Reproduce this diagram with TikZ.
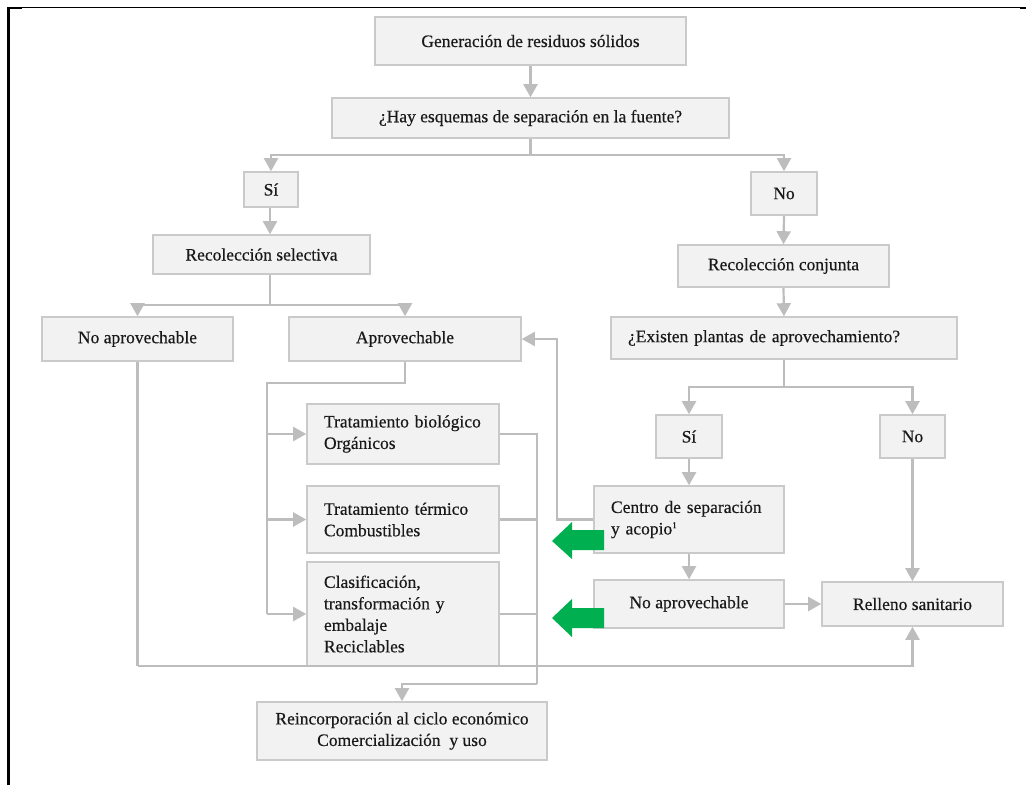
\documentclass[tikz,border=0pt]{standalone}
\usepackage{fontspec}
\setmainfont{Liberation Serif}[FakeBold=0.4,AutoFakeBold=0.4]
\usetikzlibrary{arrows.meta}
\definecolor{boxfill}{HTML}{F2F2F2}
\definecolor{boxline}{HTML}{CACACA}
\definecolor{conn}{HTML}{BDBDBD}
\definecolor{grn}{HTML}{00B050}
\begin{document}
\begin{tikzpicture}[x=1pt,y=-1pt,
  box/.style={draw=boxline, fill=boxfill, line width=1.6pt, inner sep=0pt,
    font=\fontsize{17.5}{21.5}\selectfont, align=center, text=black!90},
  lbox/.style={box, align=left, inner xsep=17pt},
  link/.style={draw=conn, line width=2.2pt},
  arr/.style={link, -{Triangle[width=14pt,length=13pt]}},
  frame/.style={draw=black, line width=1.4pt}
]
\fill[white] (0,0) rectangle (1026,785);
\useasboundingbox (0,0) rectangle (1026,785);

% frame
\draw[frame] (8,7.3) -- (1020,7.3);
\draw[black, line width=2.6pt] (8.5,6.5) -- (8.5,785);
\draw[black, line width=2.4pt] (7,8) -- (22,8);
\draw[black, line width=2.4pt] (1020,8) -- (1026,8);

% nodes
\node[box, minimum width=311pt, minimum height=48pt] (gen) at (530.5,41) {Generación de residuos sólidos};
\node[box, minimum width=397pt, minimum height=40pt] (hay) at (530.5,118) {¿Hay esquemas de separación en la fuente?};
\node[box, minimum width=54pt, minimum height=35pt] (si1) at (271,189.5) {Sí};
\node[box, minimum width=66pt, minimum height=43pt] (no1) at (784,193.5) {No};
\node[box, minimum width=217pt, minimum height=39pt] (rs) at (261.5,254.5) {Recolección selectiva};
\node[box, minimum width=191pt, minimum height=44pt] (noap1) at (137.5,339) {No aprovechable};
\node[box, minimum width=232pt, minimum height=44pt] (aprov) at (405,339) {Aprovechable};
\node[box, minimum width=211pt, minimum height=42pt] (rc) at (783.5,266) {Recolección conjunta};
\node[lbox, text width=312pt, minimum height=42pt] (exist) at (784,338) {¿Existen plantas de aprovechamiento?};
\node[box, minimum width=66pt, minimum height=43pt] (si2) at (689,436.5) {Sí};
\node[box, minimum width=65pt, minimum height=43pt] (no2) at (912.5,436.5) {No};
\node[lbox, text width=156pt, minimum height=67pt] (centro) at (689,519.5) {Centro de separación\\y acopio\textsuperscript{\fontsize{9}{9}\selectfont 1}};
\node[box, minimum width=190pt, minimum height=48pt] (noap2) at (689,604) {No aprovechable};
\node[box, minimum width=181pt, minimum height=44pt] (relleno) at (912.5,604) {Relleno sanitario};
\node[lbox, text width=158pt, minimum height=60pt] (tb) at (403,434) {Tratamiento biológico\\Orgánicos};
\node[lbox, text width=158pt, minimum height=67pt] (tt) at (403,519.5) {Tratamiento térmico\\Combustibles};
\node[lbox, text width=158pt, minimum height=104pt] (cl) at (403,614) {Clasificación,\\transformación y\\embalaje\\Reciclables};
\node[box, minimum width=290pt, minimum height=58pt] (rei) at (402,731) {Reincorporación al ciclo económico\\Comercialización\ \ y uso};

% connectors
\coordinate (b1) at (530.5,155);
\coordinate (b2) at (270,305);
\coordinate (b3) at (784,387);
\coordinate (b4) at (137.5,666);
\coordinate (v1) at (267,383);
\coordinate (v2) at (537,684);

\draw[arr] (gen.south) -- (hay.north);
\draw[link] (hay.south) -- (b1);
\draw[arr] (b1) -| (si1.north);
\draw[arr] (b1) -| (no1.north);
\draw[arr] (si1.south -| b2) -- (rs.north -| b2);
\draw[link] (rs.south -| b2) -- (b2);
\draw[arr] (b2) -| (noap1.north);
\draw[arr] (b2) -| (aprov.north);
\draw[arr] (no1.south) -- (rc.north);
\draw[arr] (rc.south) -- (exist.north);
\draw[link] (exist.south) -- (b3);
\draw[arr] (b3) -| (si2.north);
\draw[arr] (b3) -| (no2.north);
\draw[arr] (si2.south) -- (centro.north);
\draw[arr] (centro.south) -- (noap2.north);
\draw[arr] (noap2.east) -- (relleno.west);
\draw[arr] (no2.south) -- (relleno.north);
\draw[link] (noap1.south) -- (b4);
\draw[arr] (b4) -| (relleno.south);
\draw[link] (aprov.south) |- (v1) -- (v1 |- cl.west);
\draw[arr] (v1 |- tb.west) -- (tb.west);
\draw[arr] (v1 |- tt.west) -- (tt.west);
\draw[arr] (v1 |- cl.west) -- (cl.west);
\draw[link] (tb.east) -| (v2);
\draw[link] (tt.east) -- (tt.east -| v2);
\draw[link] (cl.east) -- (cl.east -| v2);
\draw[arr] (v2) -| (rei.north);
\draw[arr] (centro.west) -- ++(-36,0) |- (aprov.east);

% green arrows
\fill[grn] (552,541) -- (572,522) -- (572,530) -- (604,530) -- (604,550) -- (572,550) -- (572,559) -- cycle;
\fill[grn] (552,618) -- (572,599) -- (572,608) -- (604,608) -- (604,628) -- (572,628) -- (572,637) -- cycle;
\end{tikzpicture}
\end{document}
